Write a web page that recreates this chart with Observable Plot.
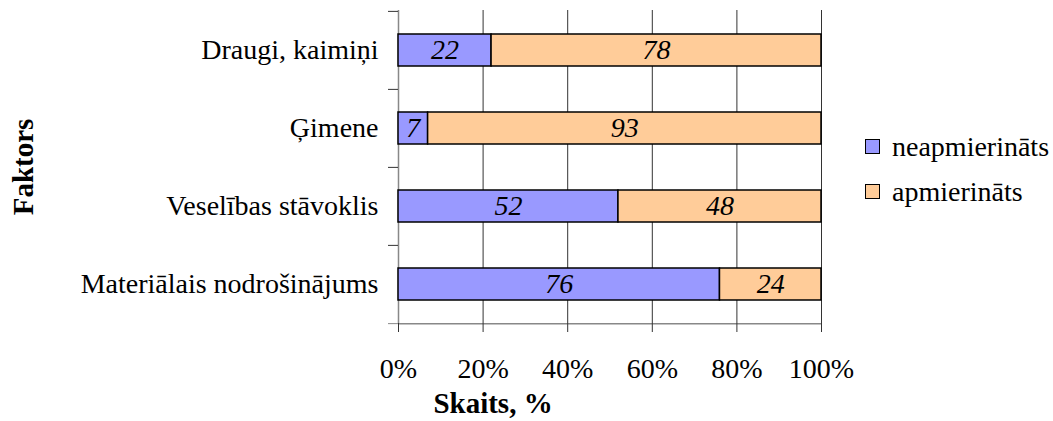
<!DOCTYPE html>
<html>
<head>
<meta charset="utf-8">
<script src="https://cdn.jsdelivr.net/npm/d3@7"></script>
<script src="https://cdn.jsdelivr.net/npm/@observablehq/plot@0.6"></script>
<style>
  html, body { margin: 0; padding: 0; background: #fff; }
  #wrap { position: relative; width: 1053px; height: 421px; font-family: "Liberation Serif", "Times New Roman", serif; }
  #legend { position: absolute; left: 865px; top: 124px; font-size: 28px; color: #000; }
  .row { display: flex; align-items: center; height: 45px; }
  .sw { width: 13px; height: 13px; border: 1.5px solid #000; margin-right: 12px; box-sizing: content-box; }
</style>
</head>
<body>
<div id="wrap"></div>
<script>
const categories = ["Draugi, kaimiņi", "Ģimene", "Veselības stāvoklis", "Materiālais nodrošinājums"];
const seriesNames = ["neapmierināts", "apmierināts"];
const neapmierinats = [22, 7, 52, 76];
const apmierinats = [78, 93, 48, 24];
const xTicks = [0, 20, 40, 60, 80, 100];
const colors = ["#9999FF", "#FFCC99"];

const rows = [];
categories.forEach((c, i) => {
  rows.push({cat: c, series: seriesNames[0], value: neapmierinats[i]});
  rows.push({cat: c, series: seriesNames[1], value: apmierinats[i]});
});

const W = 1053, H = 421;
const mTop = 10, mBottom = 98, mLeft = 398, mRight = 232;
const half = (H - mTop - mBottom) / categories.length / 2;
const font = '"Liberation Serif", "Times New Roman", serif';

const chart = Plot.plot({
  width: W,
  height: H,
  marginTop: mTop,
  marginBottom: mBottom,
  marginLeft: mLeft,
  marginRight: mRight,
  style: {fontFamily: font, fontSize: "28px", color: "#000", background: "#fff"},
  x: {domain: [0, 100], axis: null},
  y: {domain: categories, paddingInner: 0.59, paddingOuter: 0.295, axis: null},
  color: {domain: seriesNames, range: colors},
  marks: [
    Plot.ruleX(xTicks.filter(d => d > 0), {stroke: "#333", strokeWidth: 1}),
    Plot.ruleX([0], {stroke: "#888", strokeWidth: 1.5}),
    Plot.ruleY([categories[categories.length - 1]], {dy: half, stroke: "#888", strokeWidth: 1.5}),
    Plot.axisX(xTicks, {tickSize: 9, tickPadding: 26, tickFormat: d => d + "%", fontSize: 28, stroke: "#333", label: null}),
    Plot.axisY(categories, {tickSize: 10, text: null, dy: -half, stroke: "#333", label: null}),
    Plot.axisY([categories[categories.length - 1]], {tickSize: 10, text: null, dy: half, stroke: "#888", label: null}),
    Plot.axisY(categories, {tickSize: 0, tickPadding: 20, fontSize: 28, label: null}),
    Plot.barX(rows, Plot.stackX({x: "value", y: "cat", fill: "series", order: seriesNames, stroke: "#000", strokeWidth: 1.5})),
    Plot.text(rows, Plot.stackX({x: "value", y: "cat", z: "series", order: seriesNames, text: d => String(d.value), fontStyle: "italic", fontSize: 28, fill: "#000"})),
    Plot.text(["Faktors"], {frameAnchor: "left", dx: -366, rotate: -90, lineAnchor: "bottom", textAnchor: "middle", fontWeight: "bold", fontSize: 29, fill: "#000"}),
    Plot.text(["Skaits, %"], {frameAnchor: "bottom", dx: -117, dy: 80, lineAnchor: "middle", textAnchor: "middle", fontWeight: "bold", fontSize: 29, fill: "#000"})
  ]
});

const wrap = document.getElementById("wrap");
wrap.appendChild(chart);

const legend = document.createElement("div");
legend.id = "legend";
seriesNames.forEach((s, i) => {
  const row = document.createElement("div");
  row.className = "row";
  const sw = document.createElement("div");
  sw.className = "sw";
  sw.style.background = colors[i];
  const t = document.createElement("span");
  t.textContent = s;
  row.appendChild(sw);
  row.appendChild(t);
  legend.appendChild(row);
});
wrap.appendChild(legend);
</script>
</body>
</html>
